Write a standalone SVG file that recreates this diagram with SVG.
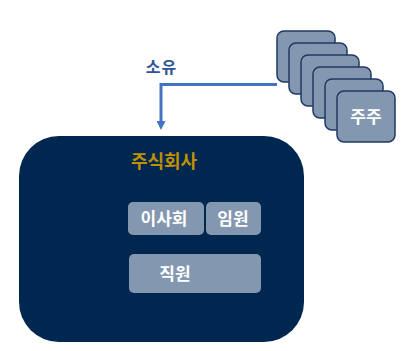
<svg xmlns="http://www.w3.org/2000/svg" width="414" height="351" viewBox="0 0 414 351">
<style>
text{font-family:"Noto Sans CJK KR","Noto Sans",sans-serif;font-weight:bold;text-anchor:middle}
.sh{fill:#8497B0;stroke:#1F3864;stroke-width:1.5}
.in{fill:#8497B0}
.w{fill:#FFFFFF;font-size:17px}
</style>
<defs>
<marker id="ah" markerWidth="9" markerHeight="9" refX="1" refY="4.5" orient="auto" markerUnits="userSpaceOnUse" viewBox="0 0 9 9"><path d="M0,0 L9,4.5 L0,9 Z" fill="#4472C4"/></marker>
</defs>
<rect width="414" height="351" fill="#FFFFFF"/>
<g id="company">
<rect x="19" y="136" width="285" height="206" rx="40" fill="#00274F"/>
<text x="164" y="168" font-size="18" fill="#BF9000">주식회사</text>
</g>
<g id="board">
<rect class="in" x="128" y="202" width="76" height="33" rx="5"/>
<text class="w" x="164" y="225">이사회</text>
</g>
<g id="executives">
<rect class="in" x="206" y="202" width="55" height="33" rx="5"/>
<text class="w" x="233" y="225">임원</text>
</g>
<g id="employees">
<rect class="in" x="129" y="254" width="132" height="39" rx="5"/>
<text class="w" x="175" y="280">직원</text>
</g>
<g id="shareholders">
<rect class="sh" x="277" y="31" width="58" height="51" rx="7"/>
<rect class="sh" x="289" y="43" width="58" height="51" rx="7"/>
<rect class="sh" x="301" y="55" width="58" height="51" rx="7"/>
<rect class="sh" x="313" y="67" width="58" height="51" rx="7"/>
<rect class="sh" x="325" y="79" width="58" height="51" rx="7"/>
<rect class="sh" x="337" y="91" width="58" height="51" rx="7"/>
<text class="w" x="366" y="123">주주</text>
</g>
<g id="connectors">
<path d="M277,84.5 H161 V122" fill="none" stroke="#4472C4" stroke-width="3" marker-end="url(#ah)"/>
<text x="161.5" y="73" font-size="16" letter-spacing="1" fill="#2F5597">소유</text>
</g>
</svg>
